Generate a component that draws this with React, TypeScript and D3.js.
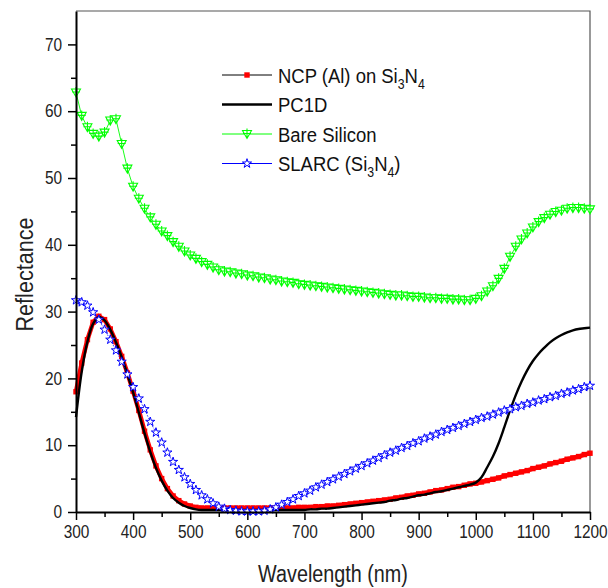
import { useRef, useEffect } from 'react'
import {
  select,
  scaleLinear,
  axisBottom,
  axisLeft,
  line,
  curveCatmullRom,
  curveLinear,
  symbol,
  symbolStar,
} from 'd3'

// wavelength grid (nm)
const wavelengths = [
  300, 310, 320, 330, 340, 350, 360, 370, 380, 390, 400, 410, 420, 430, 440, 450, 460, 470, 480, 490,
  500, 510, 520, 530, 540, 550, 560, 570, 580, 590, 600, 610, 620, 630, 640, 650, 660, 670, 680, 690,
  700, 710, 720, 730, 740, 750, 760, 770, 780, 790, 800, 810, 820, 830, 840, 850, 860, 870, 880, 890,
  900, 910, 920, 930, 940, 950, 960, 970, 980, 990, 1000, 1010, 1020, 1030, 1040, 1050, 1060, 1070,
  1080, 1090, 1100, 1110, 1120, 1130, 1140, 1150, 1160, 1170, 1180, 1190, 1200,
]

const ncpAl = [
  18.0, 22.3, 25.8, 28.4, 29.3, 28.8, 27.4, 25.5, 23.3, 20.8, 18.1, 15.2, 12.1, 9.3, 6.9, 5.0, 3.5, 2.4, 1.7, 1.2,
  0.9, 0.7, 0.6, 0.6, 0.6, 0.6, 0.6, 0.6, 0.6, 0.6, 0.6, 0.6, 0.6, 0.6, 0.6, 0.6, 0.6, 0.6, 0.6, 0.7,
  0.7, 0.7, 0.8, 0.8, 0.9, 0.9, 1.0, 1.1, 1.2, 1.3, 1.4, 1.5, 1.6, 1.7, 1.8, 1.9, 2.1, 2.2, 2.4, 2.5,
  2.7, 2.8, 3.0, 3.2, 3.3, 3.5, 3.7, 3.8, 4.0, 4.2, 4.3, 4.5, 4.7, 4.9, 5.1, 5.4, 5.6, 5.8,
  6.0, 6.2, 6.5, 6.7, 6.9, 7.2, 7.4, 7.6, 7.9, 8.1, 8.3, 8.6, 8.8,
]

const pc1d = [
  14.2, 21.0, 25.5, 28.2, 29.2, 28.7, 27.3, 25.4, 23.2, 20.6, 17.9, 14.9, 11.8, 9.0, 6.6, 4.7, 3.2, 2.1, 1.4, 0.9,
  0.6, 0.4, 0.3, 0.3, 0.3, 0.3, 0.3, 0.3, 0.3, 0.3, 0.3, 0.3, 0.3, 0.3, 0.3, 0.3, 0.3, 0.3, 0.3, 0.3,
  0.3, 0.4, 0.4, 0.5, 0.5, 0.6, 0.7, 0.8, 0.9, 1.0, 1.1, 1.2, 1.3, 1.4, 1.5, 1.7, 1.8, 2.0, 2.1, 2.3,
  2.5, 2.6, 2.8, 3.0, 3.1, 3.3, 3.5, 3.7, 3.9, 4.1, 4.4, 5.2, 6.7, 8.3, 10.3, 12.7, 15.2, 17.5,
  19.5, 21.2, 22.6, 23.7, 24.6, 25.4, 26.0, 26.5, 26.9, 27.2, 27.4, 27.5, 27.6,
]

const bareSilicon = [
  62.8, 59.3, 57.6, 56.6, 56.2, 56.8, 58.6, 58.8, 55.1, 51.4, 48.7, 46.9, 45.4, 44.1, 43.0, 42.0, 41.3, 40.4, 39.7, 39.0,
  38.4, 37.9, 37.4, 37.0, 36.6, 36.2, 36.0, 35.9, 35.7, 35.6, 35.4, 35.3, 35.1, 35.0, 34.8, 34.7, 34.5, 34.4, 34.3, 34.1,
  34.0, 33.9, 33.8, 33.7, 33.6, 33.5, 33.4, 33.3, 33.2, 33.1, 33.0, 32.9, 32.8, 32.7, 32.6, 32.5, 32.4, 32.4, 32.3, 32.2,
  32.2, 32.1, 32.0, 32.0, 31.9, 31.9, 31.8, 31.8, 31.7, 31.7, 31.9, 32.3, 33.0, 33.8, 34.9, 36.4, 38.2, 39.7,
  40.8, 41.7, 42.6, 43.4, 44.0, 44.5, 44.9, 45.1, 45.4, 45.5, 45.5, 45.4, 45.3,
]

const slarc = [
  31.7, 31.4, 30.9, 29.9, 28.8, 27.3, 25.8, 24.2, 22.5, 20.6, 18.7, 17.0, 15.4, 13.5, 11.9, 10.4, 8.9, 7.5, 6.3, 5.2,
  4.2, 3.3, 2.5, 1.9, 1.3, 0.8, 0.5, 0.3, 0.2, 0.1, 0.1, 0.1, 0.1, 0.2, 0.4, 0.7, 1.1, 1.5, 1.9, 2.4,
  2.8, 3.2, 3.7, 4.1, 4.5, 4.9, 5.3, 5.7, 6.1, 6.5, 6.9, 7.3, 7.7, 8.1, 8.5, 8.9, 9.2, 9.6, 9.9, 10.3,
  10.6, 11.0, 11.3, 11.6, 12.0, 12.3, 12.6, 12.9, 13.2, 13.5, 13.8, 14.1, 14.3, 14.6, 14.9, 15.2, 15.4, 15.7,
  15.9, 16.2, 16.4, 16.7, 16.9, 17.2, 17.4, 17.7, 17.9, 18.2, 18.4, 18.7, 18.9,
]

const xTicks = [300, 400, 500, 600, 700, 800, 900, 1000, 1100, 1200]
const xMinorTicks = [350, 450, 550, 650, 750, 850, 950, 1050, 1150]
const yTicks = [0, 10, 20, 30, 40, 50, 60, 70]
const yMinorTicks = [5, 15, 25, 35, 45, 55, 65]

const FONT = '"Liberation Sans", Arial, sans-serif'
const GREEN = '#00ff00'
const BLUE = '#0000ff'
const RED = '#ff0000'
const SQUEEZE = 0.88 // the original uses a narrow face

// down triangle with a cross, like Origin's marker
const triCross = 'M-4.5,-3.5L4.5,-3.5L0,4.5Z M0,-5.5V4.5 M-4,-0.5H4'

const App = () => {
  const svgRef = useRef(null)

  useEffect(() => {
    const svg = select(svgRef.current)
    svg.selectAll('*').remove()

    const left = 76
    const right = 590
    const top = 11
    const bottom = 512

    const x = scaleLinear().domain([300, 1200]).range([left, right])
    const y = scaleLinear().domain([0, 75]).range([bottom, top])

    const pts = (vals) => wavelengths.map((w, i) => [w, vals[i]])

    // frame (top / right)
    svg
      .append('path')
      .attr('d', `M${left},${top}H${right}V${bottom}`)
      .attr('fill', 'none')
      .attr('stroke', '#555')
      .attr('stroke-width', 1.2)

    const lineGen = (curve) =>
      line()
        .x((d) => x(d[0]))
        .y((d) => y(d[1]))
        .curve(curve)

    // NCP (Al) on Si3N4
    const ncpGroup = svg.append('g')
    ncpGroup
      .append('path')
      .attr('d', lineGen(curveLinear)(pts(ncpAl)))
      .attr('fill', 'none')
      .attr('stroke', RED)
      .attr('stroke-width', 4.5)
    ncpGroup
      .selectAll('rect')
      .data(pts(ncpAl))
      .join('rect')
      .attr('x', (d) => x(d[0]) - 2.7)
      .attr('y', (d) => y(d[1]) - 2.7)
      .attr('width', 5.4)
      .attr('height', 5.4)
      .attr('fill', RED)

    // PC1D
    svg
      .append('path')
      .attr('d', lineGen(curveCatmullRom)(pts(pc1d)))
      .attr('fill', 'none')
      .attr('stroke', '#000')
      .attr('stroke-width', 2.4)

    // SLARC
    const starPath = symbol().type(symbolStar).size(26)()
    const slarcGroup = svg.append('g')
    slarcGroup
      .append('path')
      .attr('d', lineGen(curveLinear)(pts(slarc)))
      .attr('fill', 'none')
      .attr('stroke', BLUE)
      .attr('stroke-width', 0.8)
      .attr('stroke-dasharray', '1.5 1.5')
    slarcGroup
      .selectAll('path.m')
      .data(pts(slarc))
      .join('path')
      .attr('class', 'm')
      .attr('d', starPath)
      .attr('transform', (d) => `translate(${x(d[0])},${y(d[1])})`)
      .attr('fill', 'white')
      .attr('stroke', BLUE)
      .attr('stroke-width', 1)

    // Bare Silicon
    const siGroup = svg.append('g')
    siGroup
      .append('path')
      .attr('d', lineGen(curveLinear)(pts(bareSilicon)))
      .attr('fill', 'none')
      .attr('stroke', GREEN)
      .attr('stroke-width', 0.9)
    siGroup
      .selectAll('path.m')
      .data(pts(bareSilicon))
      .join('path')
      .attr('class', 'm')
      .attr('d', triCross)
      .attr('transform', (d) => `translate(${x(d[0])},${y(d[1])})`)
      .attr('fill', 'white')
      .attr('stroke', GREEN)
      .attr('stroke-width', 1.1)

    // axes
    const xAxisG = svg.append('g').attr('transform', `translate(0,${bottom})`)
    xAxisG.call(
      axisBottom(x)
        .tickValues(xTicks)
        .tickSize(8)
        .tickSizeOuter(0)
        .tickPadding(6)
        .tickFormat((d) => String(d)),
    )
    xAxisG.append('g').call(axisBottom(x).tickValues(xMinorTicks).tickSize(5).tickFormat(() => ''))
    xAxisG.selectAll('g g .domain').remove()

    const yAxisG = svg.append('g').attr('transform', `translate(${left},0)`)
    yAxisG.call(
      axisLeft(y)
        .tickValues(yTicks)
        .tickSize(8)
        .tickSizeOuter(0)
        .tickPadding(6)
        .tickFormat((d) => String(d)),
    )
    yAxisG.append('g').call(axisLeft(y).tickValues(yMinorTicks).tickSize(5).tickFormat(() => ''))
    yAxisG.selectAll('g g .domain').remove()

    svg.selectAll('.domain').attr('stroke', '#000').attr('stroke-width', 2)
    svg.selectAll('.tick line').attr('stroke', '#000').attr('stroke-width', 1.5)
    svg
      .selectAll('.tick text')
      .attr('font-family', FONT)
      .attr('font-size', 17.5)
      .attr('fill', '#222')
    // narrow the tick labels about their anchor
    xAxisG.selectAll('.tick text').attr('transform', `scale(${SQUEEZE},1)`)
    yAxisG
      .selectAll('.tick text')
      .attr('x', -14 / SQUEEZE)
      .attr('transform', `scale(${SQUEEZE},1)`)

    // axis titles
    svg
      .append('text')
      .text('Wavelength (nm)')
      .attr('transform', `translate(${(left + right) / 2},582) scale(0.86,1)`)
      .attr('text-anchor', 'middle')
      .attr('font-family', FONT)
      .attr('font-size', 23)
      .attr('fill', '#222')

    svg
      .append('text')
      .text('Reflectance')
      .attr('transform', `translate(33,${(top + bottom) / 2 + 13}) rotate(-90) scale(0.9,1)`)
      .attr('text-anchor', 'middle')
      .attr('font-family', FONT)
      .attr('font-size', 24)
      .attr('fill', '#222')

    // legend
    const legendItems = [
      { key: 'ncp', parts: [['NCP (Al) on Si', 0], ['3', 1], ['N', 0], ['4', 1]] },
      { key: 'pc1d', parts: [['PC1D', 0]] },
      { key: 'si', parts: [['Bare Silicon', 0]] },
      { key: 'slarc', parts: [['SLARC (Si', 0], ['3', 1], ['N', 0], ['4', 1], [')', 0]] },
    ]
    const legendY = [75, 104.5, 134, 163.5]
    const legend = svg.append('g')
    legendItems.forEach((item, i) => {
      const ly = legendY[i]
      const g = legend.append('g').attr('transform', `translate(0,${ly})`)
      const col = item.key === 'si' ? GREEN : item.key === 'slarc' ? BLUE : '#000'
      g.append('line')
        .attr('x1', 222)
        .attr('x2', 272)
        .attr('stroke', col)
        .attr('stroke-width', item.key === 'pc1d' ? 2.4 : 1)
      if (item.key === 'ncp') {
        g.append('rect').attr('x', 244.3).attr('y', -2.7).attr('width', 5.4).attr('height', 5.4).attr('fill', RED)
      } else if (item.key === 'si') {
        g.append('path').attr('d', triCross).attr('transform', 'translate(247,0)').attr('fill', 'white').attr('stroke', GREEN).attr('stroke-width', 1.1)
      } else if (item.key === 'slarc') {
        g.append('path').attr('d', starPath).attr('transform', 'translate(247,0)').attr('fill', 'white').attr('stroke', BLUE).attr('stroke-width', 1)
      }
      const t = g
        .append('text')
        .attr('transform', `translate(278,7.5) scale(${SQUEEZE},1)`)
        .attr('font-family', FONT)
        .attr('font-size', 21)
        .attr('fill', '#111')
      let prevSub = 0
      item.parts.forEach(([s, sub]) => {
        const dy = sub === prevSub ? 0 : sub ? 6 : -6
        t.append('tspan')
          .text(s)
          .attr('dy', dy)
          .attr('font-size', sub ? 14 : 21)
        prevSub = sub
      })
    })
  }, [])

  return (
    <div>
      <svg
        ref={svgRef}
        width="608"
        height="588"
        style={{ position: 'absolute', left: 0, top: 0, background: 'white' }}
      ></svg>
    </div>
  )
}

export default App
